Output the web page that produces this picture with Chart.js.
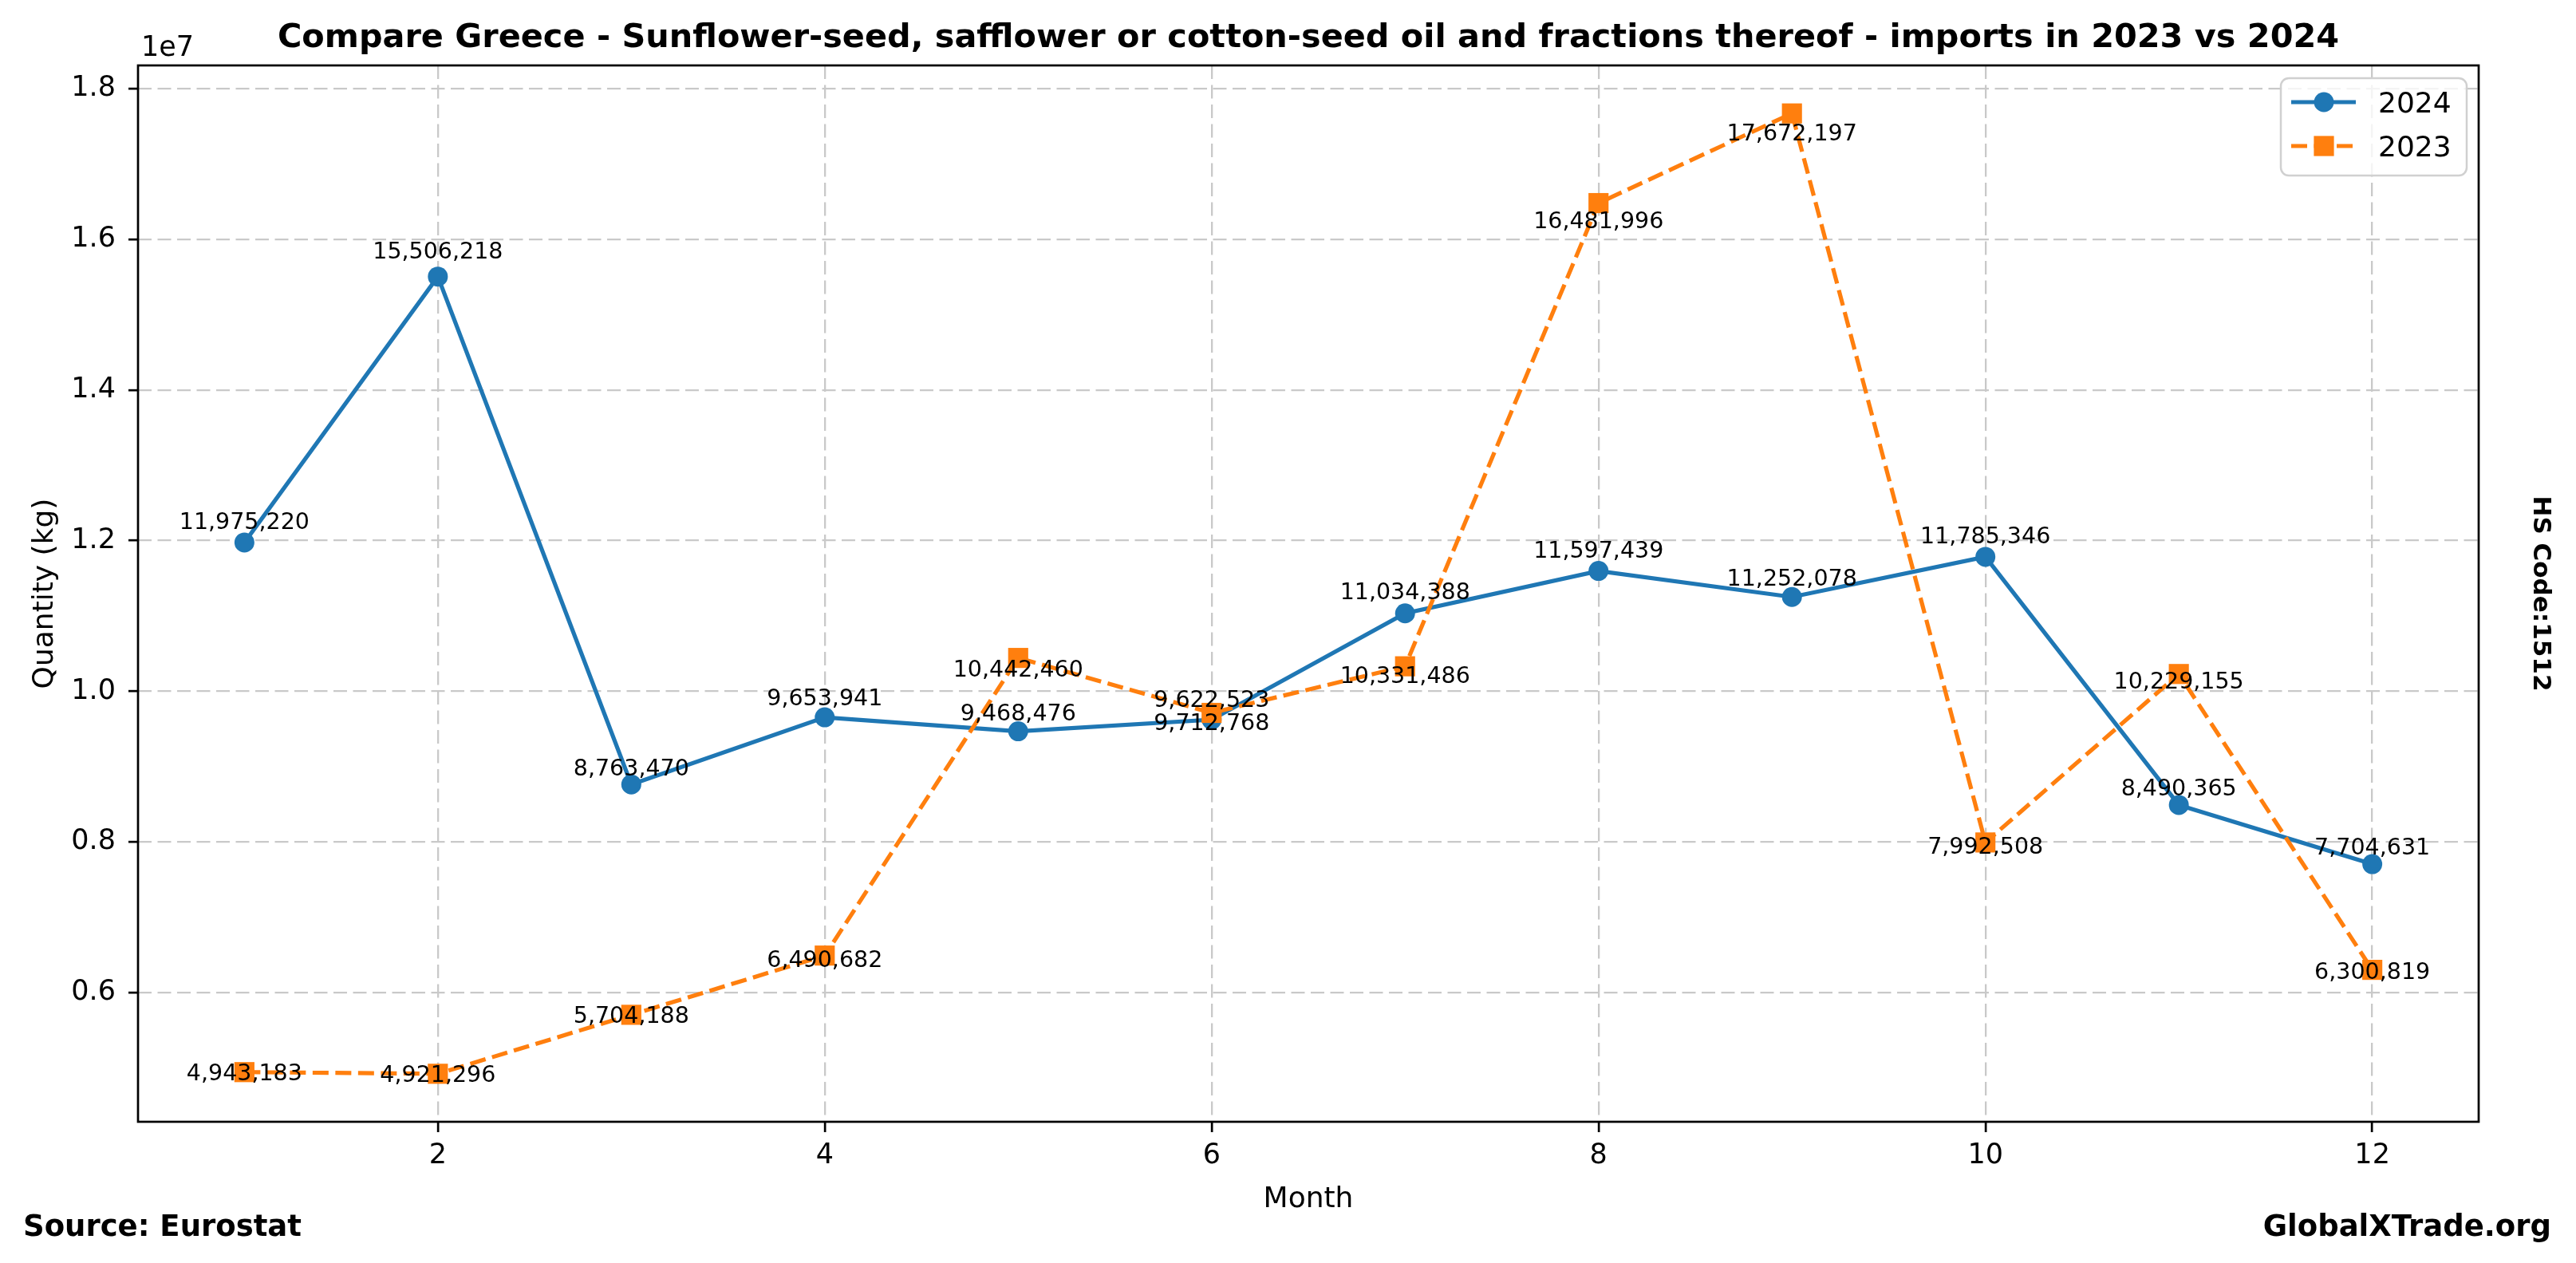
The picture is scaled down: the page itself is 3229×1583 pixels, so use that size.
<!DOCTYPE html>
<html>
<head>
<meta charset="utf-8">
<title>Greece sunflower-seed oil imports 2023 vs 2024</title>
<script src="https://cdn.jsdelivr.net/npm/chart.js@4.4.1/dist/chart.umd.min.js"></script>
<style>
  html, body { margin: 0; padding: 0; background: #fff; }
  #wrap { width: 3229px; height: 1583px; }
</style>
</head>
<body>
<div id="wrap"><canvas id="chart" width="3229" height="1583"></canvas></div>
<script>
// values
const months = [1, 2, 3, 4, 5, 6, 7, 8, 9, 10, 11, 12];
const imports2024 = [11975220, 15506218, 8763470, 9653941, 9468476, 9622523,
                     11034388, 11597439, 11252078, 11785346, 8490365, 7704631];
const imports2023 = [4943183, 4921296, 5704188, 6490682, 10442460, 9712768,
                     10331486, 16481996, 17672197, 7992508, 10229155, 6300819];
const xTicks = [2, 4, 6, 8, 10, 12];
const yTicks = [6e6, 8e6, 10e6, 12e6, 14e6, 16e6, 18e6];

// vertical nudges (px) of the value labels, as spread out in the reference
const labelShift2024 = [-27, -33, -22, -25, -24, -26, -28, -27, -25, -27, -22, -22];
const labelShift2023 = [0, 0, 0, 4, 13, 11, 10, 21, 23, 4, 8, 1];

const FONT = '"DejaVu Sans", sans-serif';
const BLUE = '#1f77b4';
const ORANGE = '#ff7f0e';

// axis range like matplotlib's 5% margins
const allValues = imports2024.concat(imports2023);
const yLo = Math.min(...allValues), yHi = Math.max(...allValues);
const yPad = (yHi - yLo) * 0.05;
const xPad = (months[months.length - 1] - months[0]) * 0.05;

const toPoints = (vals) => vals.map((v, i) => ({ x: months[i], y: v }));

const overlay = {
    id: 'overlay',
    afterDatasetsDraw(chart) {
        const ctx = chart.ctx;
        const size = 28.5;
        ctx.save();
        ctx.font = `${size}px ${FONT}`;
        ctx.fillStyle = '#000';
        ctx.textAlign = 'center';
        ctx.textBaseline = 'alphabetic';
        [labelShift2024, labelShift2023].forEach((shifts, di) => {
            const meta = chart.getDatasetMeta(di);
            const values = chart.data.datasets[di].data;
            meta.data.forEach((pt, i) => {
                const txt = values[i].y.toLocaleString('en-US');
                ctx.fillText(txt, pt.x, pt.y + shifts[i] + size * 0.3645);
            });
        });
        ctx.restore();
    },
    afterDraw(chart) {
        const ctx = chart.ctx;
        const a = chart.chartArea;
        ctx.save();

        // frame
        ctx.strokeStyle = '#000';
        ctx.lineWidth = 2.7;
        ctx.strokeRect(a.left, a.top, a.right - a.left, a.bottom - a.top);

        ctx.fillStyle = '#000';
        // title
        ctx.font = `bold 41.4px ${FONT}`;
        ctx.textAlign = 'center';
        ctx.fillText('Compare Greece - Sunflower-seed, safflower or cotton-seed oil and fractions thereof - imports in 2023 vs 2024',
            (a.left + a.right) / 2, 59);

        // offset text of the y axis
        ctx.font = `35px ${FONT}`;
        ctx.textAlign = 'left';
        ctx.fillText('1e7', a.left + 4, 70);

        // axis titles
        ctx.font = `36px ${FONT}`;
        ctx.textAlign = 'center';
        ctx.fillText('Month', (a.left + a.right) / 2, 1513);
        ctx.save();
        ctx.translate(66, (a.top + a.bottom) / 2);
        ctx.rotate(-Math.PI / 2);
        ctx.fillText('Quantity (kg)', 0, 0);
        ctx.restore();

        // side note and footer
        ctx.font = `bold 31px ${FONT}`;
        ctx.save();
        ctx.translate(3176, (a.top + a.bottom) / 2);
        ctx.rotate(Math.PI / 2);
        ctx.fillText('HS Code:1512', 0, 0);
        ctx.restore();

        ctx.font = `bold 37px ${FONT}`;
        ctx.textAlign = 'left';
        ctx.fillText('Source: Eurostat', 29, 1549);
        ctx.textAlign = 'right';
        ctx.fillText('GlobalXTrade.org', 3198, 1549);

        // legend
        const bx = 2859, by = 98, bw = 233, bh = 122;
        ctx.beginPath();
        ctx.roundRect(bx, by, bw, bh, 10);
        ctx.fillStyle = 'rgba(255,255,255,0.8)';
        ctx.fill();
        ctx.strokeStyle = '#d0d0d0';
        ctx.lineWidth = 2.5;
        ctx.stroke();

        const rows = [
            { label: '2024', color: BLUE, dash: [], y: 128, marker: 'circle' },
            { label: '2023', color: ORANGE, dash: [20, 8.5], y: 183, marker: 'rect' }
        ];
        rows.forEach(r => {
            ctx.strokeStyle = r.color;
            ctx.fillStyle = r.color;
            ctx.lineWidth = 5.2;
            ctx.setLineDash(r.dash);
            ctx.beginPath();
            ctx.moveTo(2872, r.y);
            ctx.lineTo(2953, r.y);
            ctx.stroke();
            ctx.setLineDash([]);
            if (r.marker === 'circle') {
                ctx.beginPath();
                ctx.arc(2913, r.y, 12.5, 0, Math.PI * 2);
                ctx.fill();
            } else {
                ctx.fillRect(2913 - 12.6, r.y - 12.6, 25.2, 25.2);
            }
            ctx.fillStyle = '#000';
            ctx.font = `36px ${FONT}`;
            ctx.textAlign = 'left';
            ctx.fillText(r.label, 2981, r.y + 13);
        });

        ctx.restore();
    }
};

Chart.defaults.font.family = FONT;
Chart.defaults.font.size = 35;
Chart.defaults.color = '#000';

const gridStyle = {
    color: '#c9c9c9',
    lineWidth: 2.3,
    borderDash: [17, 7.5],
    tickColor: '#000',
    tickWidth: 2.7,
    tickLength: 13
};

new Chart(document.getElementById('chart'), {
    type: 'line',
    data: {
        datasets: [{
            label: '2024',
            data: toPoints(imports2024),
            borderColor: BLUE,
            backgroundColor: BLUE,
            borderWidth: 5.2,
            pointStyle: 'circle',
            pointRadius: 12.5,
            pointBorderWidth: 0,
            pointBackgroundColor: BLUE,
            order: 2
        }, {
            label: '2023',
            data: toPoints(imports2023),
            borderColor: ORANGE,
            backgroundColor: ORANGE,
            borderWidth: 5.2,
            borderDash: [20, 8.5],
            pointStyle: 'rect',
            pointRadius: 17.8,
            pointBorderWidth: 0,
            pointBackgroundColor: ORANGE,
            order: 1
        }]
    },
    options: {
        responsive: false,
        animation: false,
        devicePixelRatio: 1,
        layout: { padding: { top: 82, right: 122, left: 0, bottom: 0 } },
        plugins: {
            legend: { display: false },
            tooltip: { enabled: false },
            title: { display: false }
        },
        scales: {
            x: {
                type: 'linear',
                min: months[0] - xPad,
                max: months[months.length - 1] + xPad,
                grid: gridStyle,
                border: { display: false, dash: [17, 7.5] },
                ticks: { padding: 9 },
                afterBuildTicks: (axis) => { axis.ticks = xTicks.map(v => ({ value: v })); },
                afterFit: (scale) => { scale.height = 177; }
            },
            y: {
                type: 'linear',
                min: yLo - yPad,
                max: yHi + yPad,
                grid: Object.assign({}, gridStyle, { tickLength: 12 }),
                border: { display: false, dash: [17, 7.5] },
                ticks: {
                    padding: 16,
                    callback: (v) => (v / 1e7).toFixed(1)
                },
                afterBuildTicks: (axis) => { axis.ticks = yTicks.map(v => ({ value: v })); },
                afterFit: (scale) => { scale.width = 173; }
            }
        }
    },
    plugins: [overlay]
});
</script>
</body>
</html>
